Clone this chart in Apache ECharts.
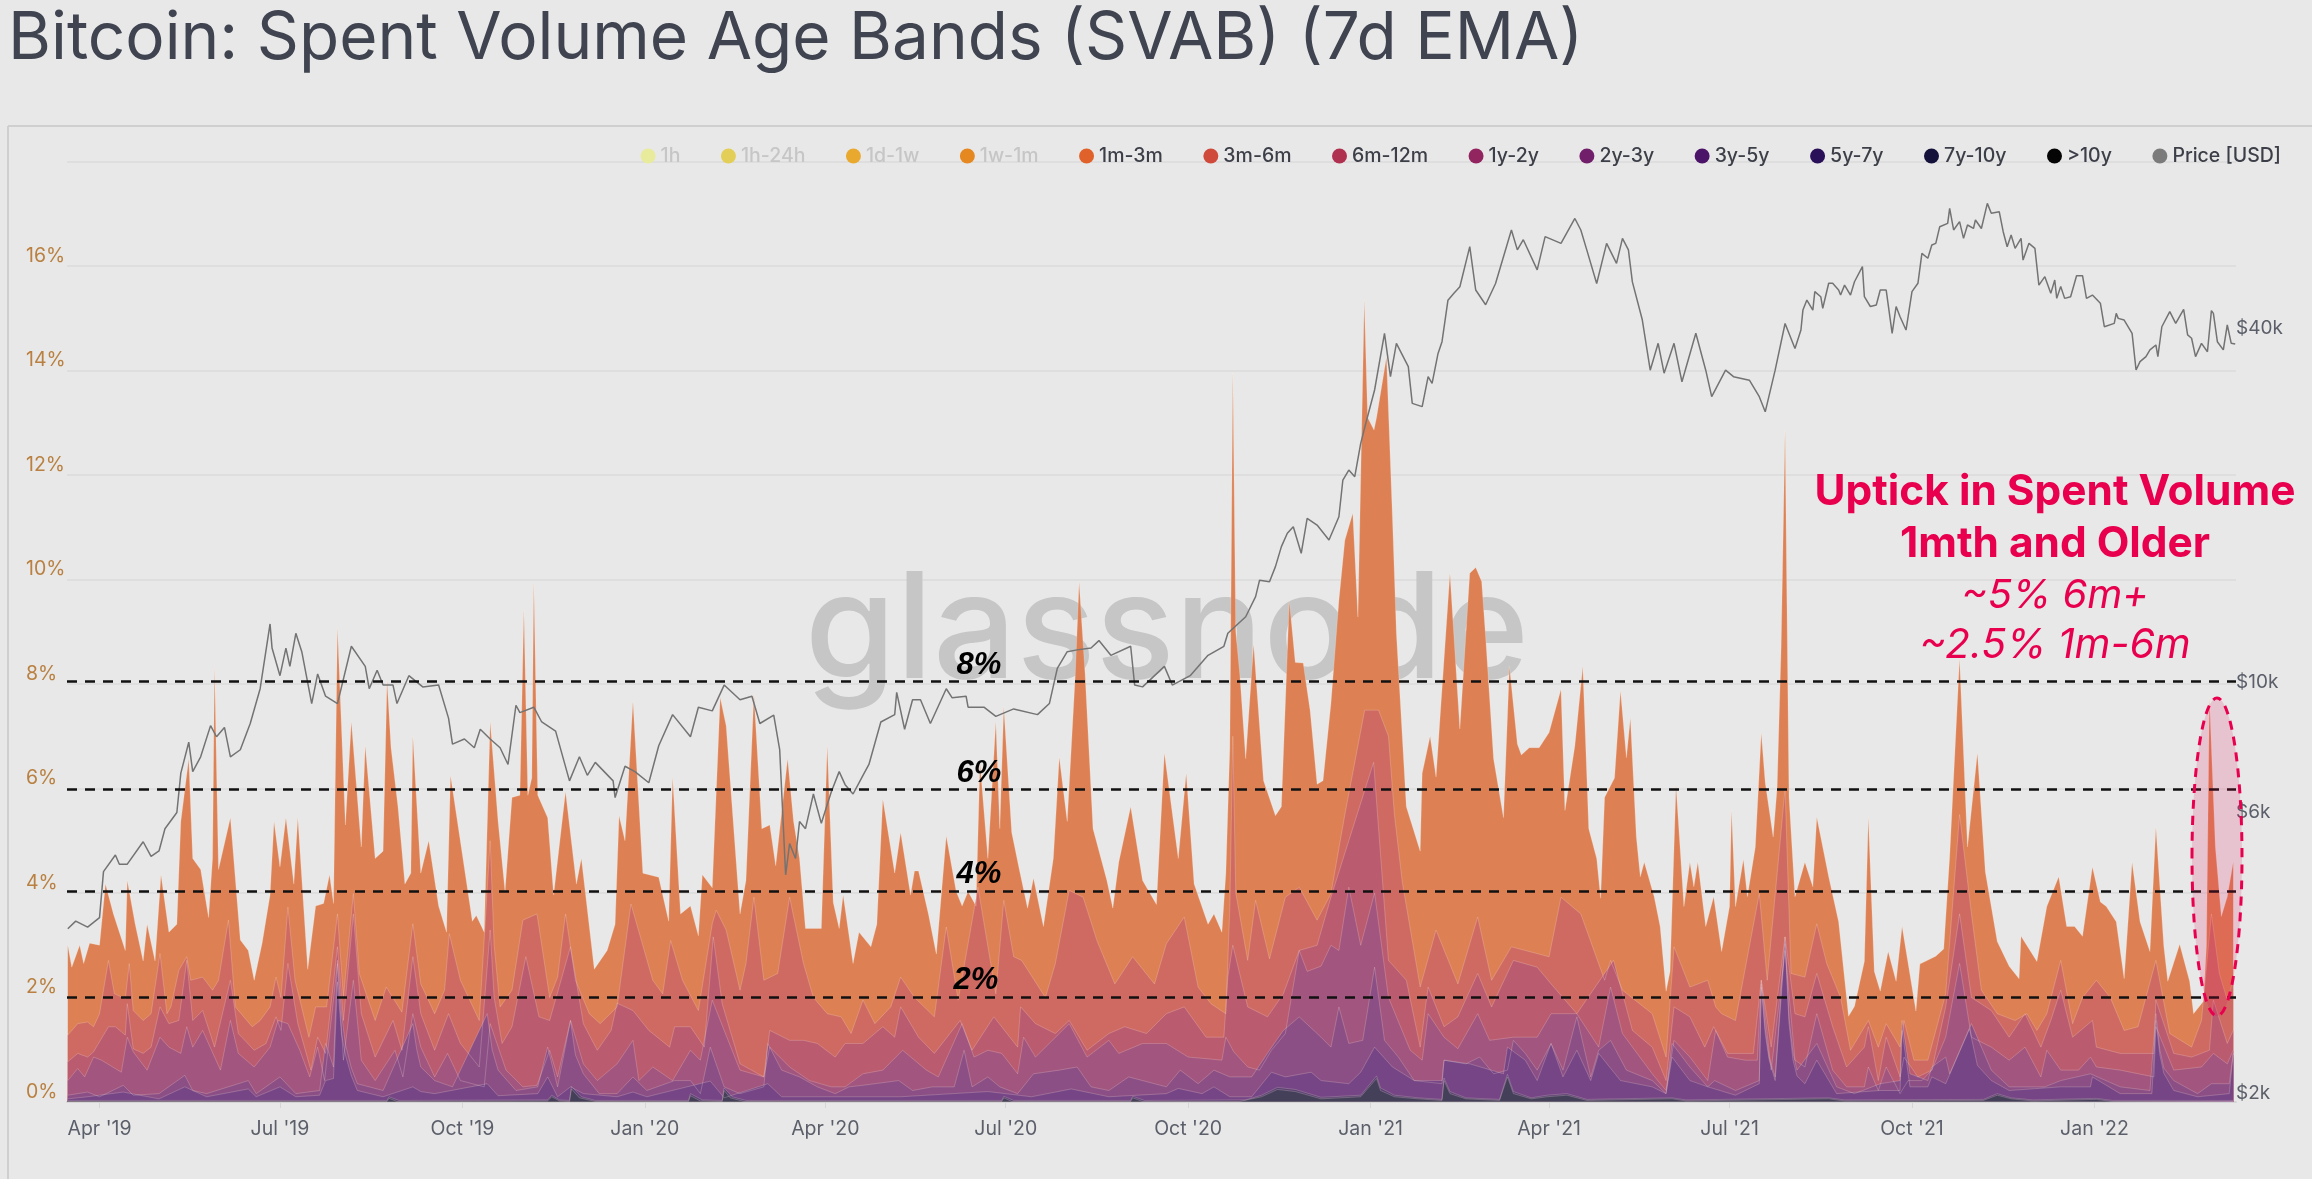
<!DOCTYPE html>
<html>
<head>
<meta charset="utf-8">
<title>Bitcoin: Spent Volume Age Bands</title>
<script src="https://cdn.jsdelivr.net/npm/echarts@6/dist/echarts.min.js"></script>
<style>
  html,body{margin:0;padding:0;background:#e8e8e8;}
  #chart{width:2312px;height:1179px;}
</style>
</head>
<body>
<div id="chart"></div>
<script>
// all bands are [days since 1 Apr 2019, upper edge of the band in %]
const band1m3m=[[-16,3],[-14,2.58],[-10,3],[-8,2.65],[-5,3.04],[0,3],[3,4.17],[7,3.6],[13,2.9],[14,4.24],[18,3.4],[22,2.7],[24,3.4],[28,2.7],[31,4.35],[35,3.25],[39,3.4],[41,5.37],[45,6.57],[47,4.66],[51,4.45],[55,3.53],[57,4.66],[58,8.34],[60,4.45],[66,5.44],[71,3.1],[75,2.9],[78,2.33],[82,3.04],[86,3.96],[88,5.37],[91,4.5],[94,5.44],[98,4.17],[100,5.44],[105,2.54],[109,3.75],[113,3.8],[116,4.35],[118,3.8],[120,9.08],[124,5.3],[127,7.28],[132,4.88],[134,6.82],[139,4.66],[143,4.8],[145,8.06],[147,6.78],[150.5,5.65],[154,4.17],[157,4.38],[158,7],[162,4.38],[166,5],[171,3.75],[175,3.25],[177,6.25],[183,4.73],[188,3.46],[190,3.57],[194,3.25],[197,7.28],[201,5.37],[204.5,4.03],[208,5.83],[212,5.87],[214,9.43],[216,5.87],[218,6.2],[219,9.95],[221,5.87],[226,5.44],[229,3.96],[235,5.94],[240.5,4.17],[243,4.66],[249.5,2.54],[256,2.9],[260,3.4],[262,5.48],[265,5],[269,7.67],[274,4.38],[282,4.3],[287,3.46],[289,6.22],[293,3.6],[298,3.75],[302,3.18],[304,4.35],[309,4.1],[313,7.74],[316,7.2],[323,3.6],[326,4.24],[330,7.8],[334,5.23],[338,5.3],[341,4.52],[347,6.57],[350,5.37],[353,4.66],[356,3.32],[364,3.32],[367,6.82],[370,3.82],[373,3.32],[375,3.96],[380,2.65],[383,3.25],[389,2.97],[392,3.4],[395,5.8],[401,4.38],[404,5.16],[409,3.96],[411,4.42],[413,4.42],[418,3.6],[422,2.83],[427,5.09],[432,4.03],[435,3.75],[438,4.03],[442,3.75],[444,6.5],[448,4.66],[452,7.28],[454,5.23],[456,7.56],[460,5.16],[464,4.42],[468,3.71],[471,4.28],[476,3.36],[481,4.66],[484,6.6],[488,5.37],[492,8.13],[494,9.95],[497,8.2],[501,5.23],[508,4.24],[511,3.71],[514,4.59],[520,5.65],[526,4.24],[533,3.78],[537,6.68],[544,4.66],[548,6.29],[552,4.17],[559,3.4],[562,3.6],[566,3.25],[568,4.38],[570,6.78],[571.5,13.97],[573,9],[575,8.2],[578,6.57],[582,8.76],[587,6.15],[593,5.48],[596,5.65],[600,9.6],[603,8.41],[607,8.4],[610.5,7.49],[614,6.08],[617,6.15],[621,7.63],[625,9.6],[628,10.75],[632,11.27],[634.6,9.28],[637.8,15.35],[639.5,13.1],[642.7,12.86],[644,13.1],[649,14.26],[652,11.2],[654,8.97],[659,5.65],[666,4.8],[667,6.29],[671,7],[674,6.22],[676,7.35],[681,10.12],[686,7.14],[691,10.12],[694,10.23],[697,9.96],[699,8.9],[703,6.57],[708,5.44],[711,8.34],[715,6.85],[717,6.64],[721,6.78],[726,6.78],[731,7.07],[737,7.9],[739,5.58],[744,6.82],[748,8.34],[751,5.23],[755,4.66],[757,3.9],[759,5.83],[764,6.2],[767,7.87],[770,6.59],[772,7.35],[775,5.07],[777,4.31],[779,4.59],[784,3.93],[787,3.36],[790,2.12],[792,2.5],[795,6.06],[799,3.74],[802,4.59],[804,4.12],[806,4.59],[810,3.36],[814,3.93],[818,2.88],[822,3.74],[823,5.59],[825,3.74],[829,4.64],[831,3.93],[835,4.88],[838,7.06],[840,6.11],[844,5.07],[846,6.02],[848,8.68],[850,12.86],[852,5.83],[855,3.93],[860,4.59],[864,4.12],[866,5.45],[869,4.88],[872,4.31],[877,3.45],[882,1.64],[885,1.83],[890,2.69],[892,5.45],[895,2.5],[898,2.12],[902,2.88],[906,2.31],[909,3.36],[916,1.74],[918,2.64],[926,2.79],[930,2.93],[933,4.69],[938,8.49],[942,4.88],[947,6.68],[951,4.4],[957,3.07],[963,2.6],[968,2.36],[969,3.17],[977,2.69],[982,3.74],[988,4.31],[992,3.36],[996,3.36],[1000,3.17],[1005,4.5],[1009,3.83],[1012,3.74],[1017,3.45],[1021,2.36],[1025,4.59],[1029,3.45],[1034,2.88],[1037,5.26],[1041,2.98],[1043,2.31],[1049,3.02],[1054,2.31],[1056,1.69],[1061,1.93],[1062.5,2.98],[1064,7.73],[1067,4.88],[1070,3.55],[1073,3.93],[1076,4.59]]
const band3m6m=[[-16,1.28],[-11,1.5],[-6,1.53],[-3,1.44],[0,1.69],[4.5,2.71],[7.5,2.07],[13,1.98],[15,2.65],[17,1.75],[22,1.56],[26,1.69],[30.5,2.84],[34,1.69],[36,1.82],[40,2.52],[44,2.78],[46,2.33],[52,2.39],[57,2.14],[60,2.33],[65,3.48],[68.5,1.82],[77,1.44],[81,1.56],[86,1.82],[89,2.39],[91.5,2],[95,3.73],[98.6,2.33],[105.6,1.24],[109,1.82],[114.5,1.82],[120,3.6],[123,2],[128,3.99],[131,2.46],[139,1.56],[144.6,2.2],[152.5,1.72],[158,3.41],[162,2.26],[169,1.69],[174,2.14],[176.4,3.22],[182,2.33],[191.5,1.56],[197,5],[199,3],[202,1.82],[208,2.14],[213.5,3.48],[220.6,3.6],[227,2],[231,2.39],[235,3.6],[240,2.33],[247,1.69],[252.5,1.5],[261,1.82],[268,3.79],[279,2.33],[284,2.07],[288,3.09],[294,2.33],[302,1.75],[309,3.41],[311,3.67],[316,3.29],[323,2.14],[326,2.65],[330,3.92],[335,2.33],[342,2.46],[348,3.92],[355,2.65],[360,2],[367,1.69],[374,1.63],[379,1.31],[385,1.95],[391,1.5],[399,1.82],[404,2.39],[411,2],[421,1.63],[427,3.35],[433,1.95],[443,4.11],[452,2.07],[456,3.86],[461,2.78],[465,2.71],[477,2],[482,2.65],[489,4.05],[496,3.92],[503,3.09],[512,2.26],[521,2.78],[532,2.26],[538,3.03],[547,3.54],[554,2.2],[560.5,1.88],[568,1.69],[570,3.73],[571.5,7],[573,4],[579,2.71],[583,3.86],[590,2.74],[598,3.92],[605,4.11],[614,3.48],[621,3.99],[628,5.5],[638,7.5],[645,7.5],[650,7],[653,5.5],[657,4.2],[666,2.2],[674,3.29],[685,2.26],[695,3.54],[702,2.33],[712,2.97],[719,2.9],[731,2.78],[737,3.92],[747,3.6],[759,2.33],[762,2.71],[768,2.14],[783,1.69],[790,0.86],[794,2.97],[802,2.2],[811,2.33],[815,1.82],[818,1.69],[825,1.56],[837,3.99],[841,2.33],[850,6],[853,2.46],[860,2.39],[866,3.41],[871,2.65],[878,2],[883,0.99],[892,1.56],[897,1.05],[901,1.5],[908,1.05],[910,1.56],[915,0.8],[922,0.8],[931,2.07],[938,5.5],[944,3.6],[949,2.14],[957,1.69],[966,1.56],[972,1.69],[977,1.37],[982,1.69],[989,2.71],[995,1.5],[1000,2],[1007,2.33],[1014,2],[1021,1.37],[1028,1.44],[1037,2.71],[1044,1.31],[1055,1.05],[1060,1.56],[1065,3.6],[1069,2.46],[1073,1.95],[1076,2.33]]
const band6m12m=[[-16,0.77],[-11,0.93],[-6,0.86],[-3,0.96],[4.5,1.44],[8,1.44],[13,1.28],[14,1.88],[17,1.02],[22,0.93],[26,1.05],[30.5,1.82],[35,1.5],[40,1.56],[44,2.71],[47,1.56],[52,1.75],[58,1.05],[66,2.33],[70,1.31],[78,0.99],[84,1.12],[89,1.63],[91.5,1.37],[95,2.65],[100,1.5],[106.6,0.61],[110,1.24],[114,0.93],[120,2.97],[123,1.56],[128,3.6],[132,1.69],[139,0.86],[148,1.56],[152.5,0.99],[158,2.78],[162,1.69],[169,0.99],[176,1.69],[182,1.12],[191.5,0.67],[197,3.29],[199,2],[203,1.12],[208,1.44],[215,2.78],[221.6,1.63],[227,1.56],[237.5,2.97],[244,1.5],[251,0.99],[258,1.37],[261,1.89],[269,1.75],[277,1.37],[287.5,1.05],[290,1.44],[298,1.44],[305,1.05],[309.5,3.16],[314,1.88],[323,0.73],[335,0.48],[338,1.37],[348,1.18],[355,1.18],[362,1.12],[371,0.86],[376,1.12],[385,1.12],[395,1.44],[401,1.24],[404,1.82],[413,1.24],[421,0.93],[434,1.56],[440,0.99],[451,1.63],[463,1.05],[464.5,1.82],[472,1.5],[482,1.31],[489,1.56],[498,0.99],[509,1.31],[517,1.44],[528,1.31],[538,1.69],[547,1.82],[558,1.24],[567,1.24],[569,2.39],[571.5,3],[579,1.82],[589,1.63],[597,2.07],[605,2.9],[614,3],[621,3.92],[630,5],[642.5,6.5],[650,2.71],[659,2.33],[666,1.05],[670,2.2],[678,1.44],[685,1.63],[695,2.46],[702,1.82],[713,2.71],[725,2.58],[732,2.26],[745,1.69],[763.5,2.71],[773,1.37],[783,1.05],[790,0.41],[794,1.82],[802,1.63],[809.5,1.05],[814,1.44],[821,0.93],[834,0.93],[838,2.33],[843,1.05],[850,3.16],[855,1.69],[860,1.63],[866,2.46],[874,1.44],[881,0.67],[890,1.05],[892,1.44],[897,0.41],[901,1.24],[908,0.48],[910,0.86],[917,0.48],[924,0.61],[931,1.82],[938,3.6],[944,2],[954,1.75],[963,1.24],[971,1.69],[979,1.05],[984,1.56],[989,2.14],[995,1.24],[1005,1.56],[1007,1.05],[1019,0.93],[1036,0.93],[1037,1.95],[1046,0.93],[1055,0.86],[1064,0.99],[1066,1.95],[1073,1.12],[1076,1.37]]
const band1y2y=[[-16,0.41],[-11,0.64],[-7.5,0.48],[-3,0.86],[1,0.8],[11,0.57],[14,1.24],[17,0.96],[24,0.61],[30.5,1.24],[35,1.05],[41,0.93],[44,1.44],[47,1.05],[52,1.37],[61,0.61],[66,1.56],[70,0.93],[78,0.67],[86,1.05],[90,1.56],[95,1.5],[101,0.99],[106,0.48],[110,1.05],[113.5,0.41],[120,2.65],[123,0.8],[128,2.33],[132,0.8],[139,0.41],[149,0.99],[153,0.48],[158,1.69],[162,1.05],[169,0.48],[175.5,0.93],[182,0.41],[194,0.29],[197,1.5],[205,0.61],[213.5,0.29],[220.6,0.32],[227,0.99],[231,0.48],[237.5,1.56],[244,0.73],[251,0.41],[261,0.73],[269,1.18],[272,0.41],[279,0.67],[289,0.41],[298,0.99],[303,0.8],[309,1.95],[315,1.37],[323,0.61],[335,0.48],[338,1.05],[348,0.67],[358,0.41],[369,0.29],[376,0.29],[385,0.54],[395,0.61],[405,0.99],[417,0.61],[423,0.48],[435,1.5],[441,0.86],[448,0.99],[455,0.93],[463,0.54],[466,1.24],[472,0.86],[489,1.5],[498,0.86],[509,1.18],[514,0.93],[526,1.12],[538,1.12],[549,0.86],[558,0.83],[566,0.8],[568,1.24],[572,0.96],[579,0.67],[585,0.61],[591,0.99],[598,1.31],[605,2.9],[609,2.5],[616,2.6],[621,3],[625,2.9],[630,4.11],[636,3],[643,4],[650,2],[661,0.99],[667,0.8],[670,1.69],[678,1.24],[685,1.02],[695,1.69],[701,1.18],[713,1.24],[725,1.24],[732,1.69],[745,1.69],[756,1.05],[762,2.2],[768,1.31],[783,0.54],[790,0.22],[794,1.18],[802,0.86],[811,0.41],[815,1.37],[821,0.86],[830,0.8],[836,0.8],[838,2.33],[843,0.61],[850,2.9],[855,0.8],[860,0.67],[866,1.69],[874,0.61],[881,0.29],[890,0.29],[892,0.67],[897,0.22],[901,0.67],[908,0.16],[912,0.41],[919,0.41],[924,0.61],[931,1.24],[938,2.65],[944,1.24],[954,1.05],[963,0.8],[971,1.05],[979,0.48],[982,0.99],[989,0.61],[998,0.61],[1004,0.86],[1007,0.67],[1019,0.61],[1036,0.48],[1037,1.44],[1046,0.61],[1060,0.67],[1066,0.93],[1073,0.73],[1076,0.99]]
const band2y3y=[[-16,0.13],[-6,0.19],[0,0.1],[12,0.32],[17,0.13],[30,0.16],[43,0.51],[47,0.22],[54,0.16],[75,0.41],[79,0.16],[91,0.48],[99,0.16],[111,0.22],[114,1.12],[118,0.67],[120,2.71],[122,1.7],[124,1.1],[127,0.65],[130,0.35],[143,0.22],[158,1.5],[160,1],[162,0.67],[169,0.41],[178,0.29],[195.5,1.69],[198,1],[201,0.61],[210,0.22],[221,0.29],[226,1.05],[231,0.29],[237.5,1.56],[240,0.9],[244,0.54],[252,0.16],[261,0.16],[269,0.48],[276,0.22],[290,0.41],[298,0.41],[303,0.16],[308,1.05],[315,0.29],[323,0.16],[335,0.29],[337,1.12],[344,0.61],[353,0.48],[362,0.29],[371,0.16],[378,0.29],[385,0.32],[403,0.41],[410,0.22],[420,0.29],[431,0.29],[436,0.99],[440,0.29],[448,0.48],[454,0.29],[463,0.16],[471,0.54],[484,0.61],[493,0.67],[500,0.29],[509,0.22],[519,0.48],[538,0.29],[545,0.61],[554,0.35],[562,0.61],[570,0.48],[581,0.48],[590,0.99],[597,1.37],[605,1.63],[616,1.24],[621,1.05],[625,1.82],[630,1.12],[637,1.18],[643,2.58],[648,1.18],[655,0.86],[663,0.41],[677,0.35],[678,0.8],[689,0.73],[696,0.86],[703,0.54],[710,0.61],[713,1.18],[719,0.93],[725,0.61],[732,1.12],[738,0.61],[745,1.63],[752,0.48],[756,0.99],[762,1.18],[770,0.61],[783,0.41],[790,0.16],[793,1.12],[802,0.67],[811,0.29],[814.5,0.41],[825,0.22],[837,0.41],[838,2.26],[840,1.4],[842,0.85],[845,0.48],[850,3.16],[852,1.6],[854,0.95],[856,0.61],[866,1.12],[876,0.29],[885,0.16],[898,0.35],[908,0.41],[909,1.56],[913,0.54],[922,0.41],[924,0.67],[931,0.86],[933,0.54],[944,1.5],[954,0.61],[963,0.29],[972,0.29],[981,0.29],[989,0.41],[1004,0.54],[1019,0.29],[1034,0.22],[1037,1.69],[1039,1],[1041,0.65],[1046,0.41],[1058,0.16],[1065,0.35],[1074,0.35],[1076,0.93]]
const band3y5y=[[-16,0.06],[-6,0.1],[12,0.19],[30,0.06],[43,0.29],[54,0.1],[75,0.25],[79,0.1],[91,0.29],[99,0.1],[111,0.13],[114,0.41],[118,0.45],[120,2.3],[122,1.3],[124,0.9],[127,0.5],[130,0.22],[143,0.1],[158,0.29],[162,0.2],[169,0.16],[195.5,0.35],[201,0.12],[221,0.16],[226,0.48],[231,0.1],[237.5,0.29],[244,0.16],[261,0.1],[269,0.19],[276,0.1],[308,0.4],[315,0.08],[337,0.35],[344,0.1],[404,0.1],[448,0.2],[470,0.1],[490,0.25],[509,0.1],[538,0.16],[544,0.26],[556,0.16],[562,0.29],[570,0.1],[581,0.1],[591,0.57],[598,0.48],[611,0.57],[616,0.41],[630,0.35],[636,0.57],[643,1.05],[652,0.67],[663,0.41],[677,0.41],[678,0.8],[691,0.73],[708,0.54],[710,1.05],[719,0.8],[725,0.41],[732,1.12],[738,0.48],[745,0.99],[752,0.41],[756,0.93],[767,0.41],[783,0.29],[790,0.16],[793,0.86],[802,0.41],[811,0.29],[825,0.13],[837,0.35],[838,2.2],[840,1.3],[842,0.8],[845,0.41],[850,3.03],[852,1.5],[854,0.8],[856,0.5],[860,0.35],[866,0.8],[876,0.16],[898,0.22],[908,0.22],[909,1.37],[913,0.29],[922,0.29],[924,0.48],[931,0.35],[943,1.4],[947,0.7],[954,0.41],[963,0.22],[989,0.29],[1004,0.29],[1005,0.48],[1019,0.16],[1035,0.16],[1037,1.56],[1039,0.9],[1041,0.55],[1046,0.22],[1058,0.1],[1074,0.16],[1076,0.93]]
const band5y7y=[[-16,0.03],[145,0.03],[146,0.1],[151,0.03],[226,0.04],[228,0.13],[232,0.04],[237,0.03],[238,0.3],[243,0.1],[250,0.03],[297,0.03],[298,0.16],[304,0.04],[314,0.03],[315,0.27],[319,0.1],[326,0.03],[455,0.03],[456,0.11],[461,0.03],[520,0.03],[521,0.11],[527,0.03],[578,0.04],[586,0.13],[594,0.28],[603,0.24],[616,0.09],[636,0.13],[644,0.5],[646,0.27],[653,0.13],[665,0.08],[677,0.05],[678,0.46],[681,0.2],[689,0.08],[706,0.05],[710,0.53],[713,0.2],[722,0.08],[730,0.13],[740,0.16],[750,0.05],[793,0.08],[800,0.04],[872,0.08],[880,0.04],[950,0.05],[957,0.16],[964,0.08],[975,0.04],[1007,0.07],[1015,0.03],[1076,0.03]]
const band7y10y=[[-16,0.01],[145,0.01],[146,0.07],[150,0.01],[226,0.02],[228,0.1],[232,0.02],[237,0.01],[238,0.25],[242,0.08],[250,0.01],[297,0.01],[298,0.12],[303,0.02],[314,0.01],[315,0.22],[318,0.08],[325,0.01],[455,0.01],[456,0.08],[460,0.01],[520,0.01],[521,0.08],[526,0.01],[575,0.01],[586,0.1],[594,0.24],[603,0.2],[616,0.06],[636,0.1],[644,0.45],[646,0.22],[653,0.1],[665,0.06],[677,0.03],[678,0.41],[681,0.16],[689,0.06],[706,0.03],[710,0.48],[713,0.16],[722,0.06],[730,0.1],[740,0.13],[750,0.03],[793,0.06],[800,0.02],[872,0.06],[880,0.02],[950,0.03],[957,0.13],[964,0.06],[975,0.02],[1007,0.05],[1015,0.01],[1076,0.01]]
const band10y=[[-16,0.01],[1076,0.01]]

// [days since 1 Apr 2019, price in USD]
const priceUsd=[[-16,3806],[-12,3920],[-6,3830],[0,3975],[2,4760],[8,5080],[10,4900],[14,4900],[22,5350],[26,5050],[30,5160],[33,5630],[39,6000],[41,7000],[45,7900],[47,7040],[51,7460],[56,8430],[59,8070],[63,8370],[66,7460],[71,7670],[76,8500],[81,9740],[86,12550],[87,11420],[91,10250],[94,11420],[96,10630],[99,12100],[102,11260],[107,9190],[110,10320],[114,9460],[120,9190],[127,11500],[134,10630],[136,9740],[140,10470],[143,9880],[148,9880],[150,9190],[156,10250],[163,9810],[171,9880],[176,8680],[178,7840],[184,8000],[189,7730],[192,8310],[197,8000],[202,7730],[206,7240],[210,9130],[212,8870],[219,9060],[223,8550],[230,8250],[237,6790],[242,7460],[246,6940],[250,7300],[259,6790],[260,6360],[265,7190],[270,7040],[277,6740],[282,7790],[289,8800],[298,8070],[302,9060],[309,8930],[315,9880],[323,9330],[329,9460],[333,8500],[340,8780],[343,7670],[346,4700],[348,5310],[351,5010],[353,5790],[356,5630],[360,6450],[364,5750],[369,6500],[373,7040],[376,6690],[380,6450],[385,6940],[388,7240],[394,8550],[401,8800],[402,9600],[406,8310],[410,9330],[414,9330],[419,8500],[427,9740],[430,9400],[437,9460],[438,9060],[446,9060],[452,8740],[461,9000],[473,8800],[479,9190],[483,10550],[488,11260],[493,11340],[500,11420],[504,11760],[510,11100],[520,11500],[522,9880],[526,9810],[537,10630],[541,9880],[550,10250],[559,11100],[567,11500],[569,12100],[578,12910],[583,13970],[585,14900],[590,14810],[593,15710],[596,16990],[599,17900],[602,18370],[606,16550],[609,18980],[614,18490],[620,17440],[625,19100],[627,22050],[630,22930],[633,22340],[636,25450],[639,27900],[643,31370],[648,39170],[651,33050],[654,37660],[660,34370],[662,29770],[667,29390],[670,33050],[672,32200],[675,36200],[677,37900],[680,44600],[683,45800],[686,47000],[691,55000],[694,46400],[699,43800],[704,47600],[712,58700],[715,54300],[718,56500],[725,50200],[729,57200],[737,55700],[744,61400],[747,58700],[750,54300],[755,47600],[760,55700],[765,51500],[768,56800],[771,54300],[773,47900],[778,41300],[782,33900],[786,37660],[789,33500],[794,37660],[798,32400],[805,39170],[810,33900],[813,30560],[820,33900],[824,33050],[832,32600],[837,30560],[840,28800],[845,33900],[850,40700],[855,36900],[858,39670],[859,42900],[861,44620],[864,42900],[865,46100],[868,45200],[869,43200],[872,47640],[874,47640],[877,46400],[878,45500],[880,47300],[883,45500],[885,47930],[889,50850],[890,45200],[893,43500],[896,43760],[898,46400],[901,46400],[904,39160],[906,43500],[908,41800],[911,39670],[914,46100],[917,47640],[919,53550],[922,52540],[924,55340],[926,55700],[928,59460],[932,60250],[933,63900],[935,58700],[938,60650],[940,56800],[942,59850],[945,59050],[946,61050],[949,59050],[952,65150],[954,62650],[958,63050],[960,58300],[962,54980],[964,57570],[966,54630],[969,56800],[970,52170],[973,55700],[976,54630],[978,47300],[981,48900],[984,45800],[986,48250],[987,44910],[989,47030],[991,44910],[994,45200],[997,49080],[1000,49080],[1002,44910],[1005,45500],[1006,45800],[1009,44060],[1011,40190],[1016,40720],[1017,42350],[1018,41530],[1021,41260],[1025,39160],[1027,33930],[1029,35050],[1032,35750],[1034,36700],[1037,37420],[1038,35750],[1040,40190],[1044,42630],[1045,42630],[1047,40720],[1051,43030],[1053,38920],[1055,38420],[1057,35750],[1060,37660],[1063,36440],[1065,42800],[1066,42350],[1068,37900],[1071,36700],[1073,40470],[1075,37660],[1077,37560]]

const names=['1h','1h-24h','1d-1w','1w-1m','1m-3m','3m-6m','6m-12m','1y-2y','2y-3y','3y-5y','5y-7y','7y-10y','>10y']
const legendColors=['#e8eb9c','#e3cf58','#e9a92f','#e58820','#e0622a','#cf4a3b','#b03050','#92245f','#711f6a','#4c1468','#2a1058','#14123a','#050505']
const bandColors=[null,null,null,null,'#dd8054','#cf6a63','#ba5b70','#a2557e','#8c4f85','#764585','#5a4272','#45405a','#2a2a3a']
const bandData=[[],[],[],[],band1m3m,band3m6m,band6m12m,band1y2y,band2y3y,band3y5y,band5y7y,band7y10y,band10y]
const mutedLegend=['1h','1h-24h','1d-1w','1w-1m']

// quarter starts as days since 1 Apr 2019
const quarterDays=[0,91,183,275,366,457,549,641,731,822,914,1006]
const quarterLabels=["Apr '19","Jul '19","Oct '19","Jan '20","Apr '20","Jul '20","Oct '20","Jan '21","Apr '21","Jul '21","Oct '21","Jan '22"]
const percentTicks=[0,2,4,6,8,10,12,14,16]
const priceTicks=[2000,6000,10000,40000]
const priceTickLabels=['$2k','$6k','$10k','$40k']
const guideLevels=[2.01,4.04,5.98,8.05]

const series=names.map((name,i)=>{
  const s={
    name:name,
    type:'line',
    showSymbol:false,
    symbol:'none',
    silent:true,
    data:bandData[i],
    itemStyle:{color:legendColors[i]},
    lineStyle:{width:bandColors[i]?1:0,color:'rgba(255,235,225,0.22)'}
  }
  if(bandColors[i]) s.areaStyle={color:bandColors[i],opacity:1}
  return s
})
// dashed guides belong to the left axis, so they hang on the last band
series[12].markLine={
  silent:true,
  symbol:'none',
  animation:false,
  label:{show:false},
  lineStyle:{color:'#111',type:[10,8],width:2.5},
  data:guideLevels.map(v=>({yAxis:v}))
}
series.push({
  name:'Price [USD]',
  type:'line',
  yAxisIndex:1,
  showSymbol:false,
  symbol:'none',
  silent:true,
  z:4,
  data:priceUsd,
  itemStyle:{color:'#7b7b7b'},
  lineStyle:{color:'#737373',width:1.5}
})

const legendData=names.concat(['Price [USD]']).map(name=>({
  name:name,
  icon:'circle',
  textStyle:{color:mutedLegend.includes(name)?'#c6c6c6':'#3c3f48'}
}))

const redText='#e8004f'
const chart=echarts.init(document.getElementById('chart'))
chart.setOption({
  animation:false,
  backgroundColor:'#e8e8e8',
  textStyle:{fontFamily:'Inter'},
  title:{
    text:'Bitcoin: Spent Volume Age Bands (SVAB) (7d EMA)',
    left:3,
    top:1,
    textStyle:{fontFamily:'Inter',fontSize:65.7,fontWeight:400,color:'#3f4450'}
  },
  legend:{
    top:141,
    right:26,
    itemWidth:15,
    itemHeight:15,
    itemGap:40.5,
    selectedMode:false,
    data:legendData,
    textStyle:{fontFamily:'Inter',fontSize:19.5,fontWeight:500}
  },
  grid:{left:67,right:76,top:161.5,bottom:77},
  xAxis:{
    type:'value',
    min:-16.4,
    max:1077.4,
    splitLine:{show:false},
    axisLine:{lineStyle:{color:'#d6d6d6',width:2}},
    axisTick:{show:true,length:6,lineStyle:{color:'#d6d6d6',width:1},customValues:quarterDays},
    axisLabel:{
      color:'#5b5f6a',
      fontFamily:'Inter',
      fontSize:19.5,
      margin:17,
      customValues:quarterDays,
      formatter:(value)=>quarterLabels[quarterDays.indexOf(value)]
    }
  },
  yAxis:[
    {
      type:'value',
      min:0,
      max:18,
      interval:2,
      splitLine:{lineStyle:{color:'#dedede',width:2}},
      axisLine:{show:false},
      axisTick:{show:false},
      axisLabel:{
        color:'#b98041',
        fontFamily:'Inter',
        fontSize:19.5,
        align:'left',
        verticalAlign:'bottom',
        margin:41,
        formatter:(value)=>percentTicks.includes(value)?value+'%':''
      }
    },
    {
      type:'log',
      logBase:10,
      min:1931,
      max:76750,
      position:'right',
      splitLine:{show:false},
      axisLine:{show:false},
      axisTick:{show:false},
      axisLabel:{
        color:'#5b5f6a',
        fontFamily:'Inter',
        fontSize:19,
        margin:0,
        customValues:priceTicks,
        formatter:(value)=>priceTickLabels[priceTicks.findIndex(p=>Math.abs(p-value)<1)]
      }
    }
  ],
  series:series,
  graphic:[
    {type:'line',z:1,shape:{x1:8,y1:126,x2:2312,y2:126},style:{stroke:'#cfcfcf',lineWidth:2}},
    {type:'line',z:1,shape:{x1:8,y1:126,x2:8,y2:1179},style:{stroke:'#cfcfcf',lineWidth:2}},
    {type:'text',z:1,style:{text:'glassnode',x:1167,y:634,font:'500 147px Inter',fill:'#c6c6c6',textAlign:'center',textVerticalAlign:'middle'}},
    {type:'ellipse',z:20,shape:{cx:2217,cy:857,rx:25,ry:159},style:{fill:'rgba(232,0,80,0.16)',stroke:redText,lineWidth:3,lineDash:[9,7]}},
    {type:'text',z:21,style:{text:'8%',x:979,y:665,font:'italic bold 31px "Liberation Sans"',fill:'#000',textAlign:'center',textVerticalAlign:'middle'}},
    {type:'text',z:21,style:{text:'6%',x:979,y:773,font:'italic bold 31px "Liberation Sans"',fill:'#000',textAlign:'center',textVerticalAlign:'middle'}},
    {type:'text',z:21,style:{text:'4%',x:979,y:874,font:'italic bold 31px "Liberation Sans"',fill:'#000',textAlign:'center',textVerticalAlign:'middle'}},
    {type:'text',z:21,style:{text:'2%',x:976,y:980,font:'italic bold 31px "Liberation Sans"',fill:'#000',textAlign:'center',textVerticalAlign:'middle'}},
    {type:'text',z:21,style:{text:'Uptick in Spent Volume',x:2055,y:492,font:'bold 42.4px Inter',fill:redText,textAlign:'center',textVerticalAlign:'middle'}},
    {type:'text',z:21,style:{text:'1mth and Older',x:2055,y:544,font:'bold 42.4px Inter',fill:redText,textAlign:'center',textVerticalAlign:'middle'}},
    {type:'text',z:21,style:{text:'~5% 6m+',x:2055,y:596,font:'italic 40px Inter',fill:redText,textAlign:'center',textVerticalAlign:'middle'}},
    {type:'text',z:21,style:{text:'~2.5% 1m-6m',x:2055,y:646,font:'italic 41px Inter',fill:redText,textAlign:'center',textVerticalAlign:'middle'}}
  ]
})
</script>
</body>
</html>
